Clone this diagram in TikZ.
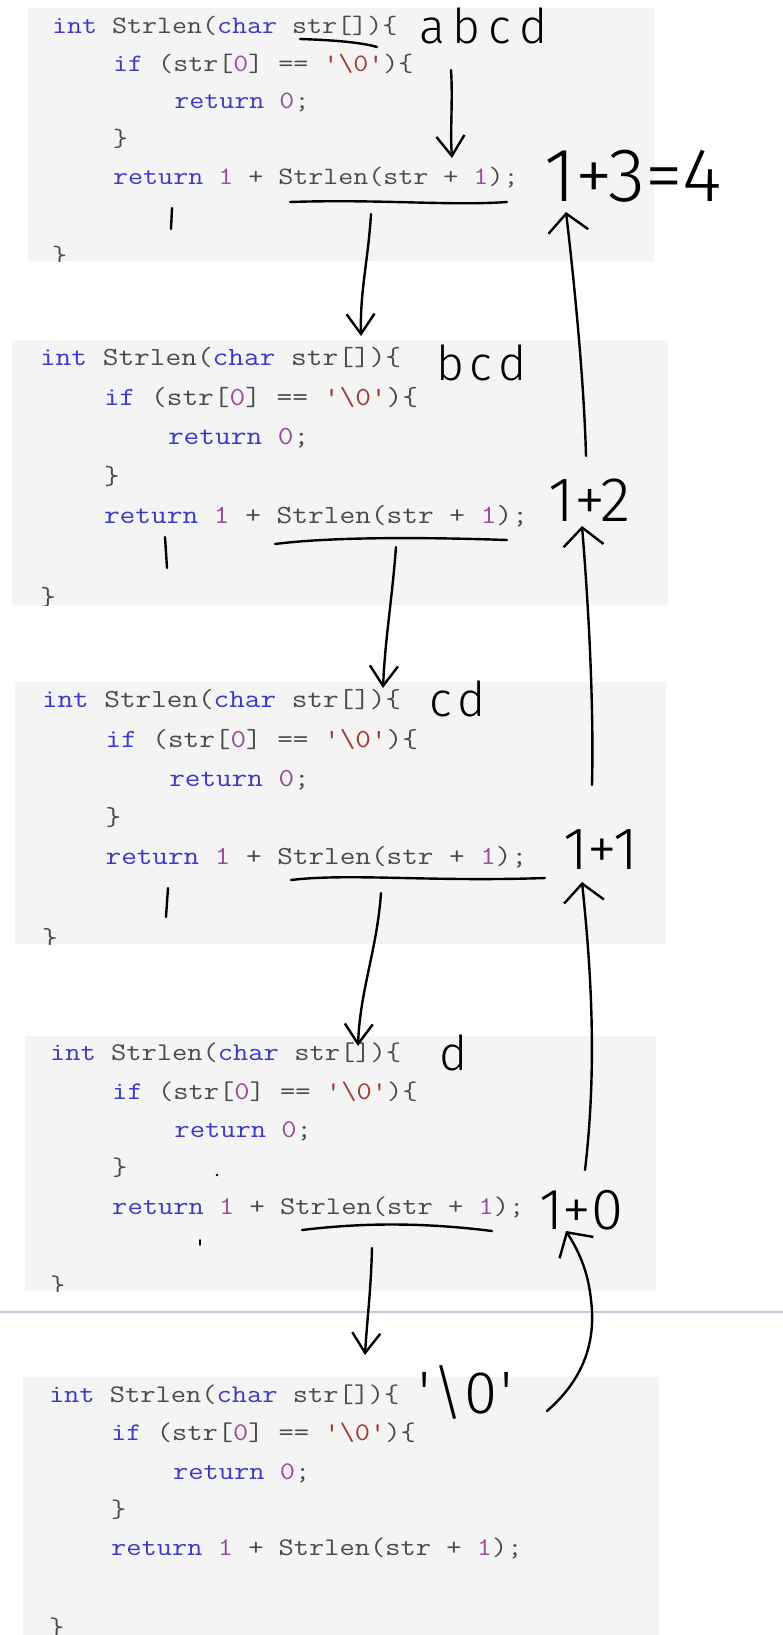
\documentclass[tikz,border=0pt]{standalone}
\usepackage{fontspec}
\usetikzlibrary{arrows.meta}
\newfontfamily\handfont{Fira Sans Light}
\definecolor{kw}{HTML}{3A3AC4}
\definecolor{pl}{HTML}{4A4A4A}
\definecolor{nm}{HTML}{9A4C9C}
\definecolor{st}{HTML}{A03C30}
\definecolor{codebg}{HTML}{F4F4F4}
\definecolor{sepcol}{HTML}{BFCAD8}
\newcommand\hfs[1]{\handfont\fontsize{#1}{#1}\selectfont}
\newcommand\Lone{{\color{kw}int} {\color{pl}Strlen(}{\color{kw}char} {\color{pl}str[])\{}}
\newcommand\Ltwo{{\color{kw}if} {\color{pl}(str[}{\color{nm}0}{\color{pl}] ==} {\color{st}\textquotesingle\textbackslash 0\textquotesingle}{\color{pl})\{}}
\newcommand\Lthree{{\color{kw}return} {\color{nm}0}{\color{pl};}}
\newcommand\Lfour{{\color{pl}\}}}
\newcommand\Lfive{{\color{kw}return} {\color{nm}1} {\color{pl}+ Strlen(str +} {\color{nm}1}{\color{pl});}}
\tikzset{
  hand/.style={line width=2.4pt, line cap=round, line join=round, black},
  downarrow/.style={hand, -{Straight Barb[length=20pt,width=28pt]}},
  uparrow/.style={hand, -{Straight Barb[length=18pt,width=40pt]}},
  codeline/.style={anchor=base west, inner sep=0pt, outer sep=0pt},
  handtext/.style={anchor=base west, inner sep=0pt, outer sep=0pt, black},
  sepline/.style={draw=sepcol, line width=2pt},
}
% #1 prefix, #2 left, #3 top, #4 right, #5 bottom, #6 text x, #7 first line y; scale in \bs
\newcommand\drawcode[7]{%
  \fill[codebg] (#2,#3) rectangle (#4,#5);
  \begin{scope}
    \clip (#2,#3) rectangle (#4,#5);
    \pgfmathsetmacro\fs{25*\bs}
    \pgfmathsetmacro\ls{37.75*\bs}
    \pgfmathsetmacro\cw{15.3*\bs}
    \pgfmathsetmacro\bo{7.5*\bs}
    \tikzset{codefont/.style={font=\ttfamily\fontsize{\fs}{\fs}\selectfont}}
    \node[codeline,codefont] (#1l1) at (#6, #7+\bo) {\scalebox{1.166}[1]{\Lone}};
    \node[codeline,codefont] (#1l2) at (#6+4*\cw, #7+\ls+\bo) {\scalebox{1.166}[1]{\Ltwo}};
    \node[codeline,codefont] (#1l3) at (#6+8*\cw, #7+2*\ls+\bo) {\scalebox{1.166}[1]{\Lthree}};
    \node[codeline,codefont] (#1l4) at (#6+4*\cw, #7+3*\ls+\bo) {\scalebox{1.166}[1]{\Lfour}};
    \node[codeline,codefont] (#1l5) at (#6+4*\cw, #7+4*\ls+\bo) {\scalebox{1.166}[1]{\Lfive}};
    \node[codeline,codefont] (#1l7) at (#6, #7+6*\ls+\bo+3) {\scalebox{1.166}[1]{\Lfour}};
  \end{scope}}
\begin{document}
\begin{tikzpicture}[x=1pt,y=-1pt]
\useasboundingbox (0,0) rectangle (783,1635);
\fill[white] (0,0) rectangle (783,1635);

% code boxes
\def\bs{1.0}   \drawcode{b1}{28}{8}{654}{261}{52}{26}
\def\bs{1.046} \drawcode{b2}{12}{340}{668}{605}{40}{358}
\def\bs{1.04}  \drawcode{b3}{15}{682}{666}{944}{42}{700}
\def\bs{1.017} \drawcode{b4}{25}{1036}{656}{1291}{50}{1053}
\def\bs{1.015} \drawcode{b5}{23}{1377}{659}{1635}{49}{1395}

% separator line
\draw[sepline] (0,1312) -- (783,1312);

% ---- box 1 annotations
\draw[hand] (300,39) .. controls (330,40) and (360,42) .. (377,47);
\node[handtext, font=\hfs{48}] (abcd) at (419,44) {a\kern8pt b\kern8pt c\kern8pt d};
\coordinate (a1s) at (451,70);
\coordinate (a1e) at (452,158);
\draw[downarrow] (a1s) .. controls (453,100) and (450,130) .. (a1e);
\draw[hand] (290,202) .. controls (380,199) and (450,206) .. (507,202);
\draw[hand] (172,208) -- (171,229);
\coordinate (d12s) at (371,214);
\coordinate (d12e) at (361,336);
\draw[downarrow] (d12s) .. controls (368,262) and (360,290) .. (d12e);
\node[handtext, font=\hfs{76}] (r4) at (544,201) {1+3=4};
\coordinate (u21s) at (586,456);
\coordinate (u21e) at (566,212);
\draw[uparrow] (u21s) .. controls (584,380) and (574,280) .. (u21e);

% ---- box 2 annotations
\node[handtext, font=\hfs{48}] (bcd) at (436,380) {b\kern6pt c\kern6pt d};
\draw[hand] (275,544) .. controls (330,537) and (420,537) .. (507,540);
\draw[hand] (165,537) -- (167,568);
\coordinate (d23s) at (396,547);
\coordinate (d23e) at (383,688);
\draw[downarrow] (d23s) .. controls (392,600) and (385,640) .. (d23e);
\node[handtext, font=\hfs{63}] (r3) at (548,521) {1+2};
\coordinate (u32s) at (592,785);
\coordinate (u32e) at (582,526);
\draw[uparrow] (u32s) .. controls (594,700) and (588,600) .. (u32e);

% ---- box 3 annotations
\node[handtext, font=\hfs{48}] (cd) at (429,716) {c\kern6pt d};
\draw[hand] (291,880) .. controls (350,873) and (430,882) .. (545,878);
\draw[hand] (168,888) -- (166,917);
\coordinate (d34s) at (381,893);
\coordinate (d34e) at (358,1046);
\draw[downarrow] (d34s) .. controls (377,950) and (360,990) .. (d34e);
\node[handtext, font=\hfs{60}] (r2) at (563,869) {1+1};
\coordinate (u43s) at (585,1170);
\coordinate (u43e) at (582,882);
\draw[uparrow] (u43s) .. controls (598,1060) and (590,960) .. (u43e);

% ---- box 4 annotations
\node[handtext, font=\hfs{48}] (d) at (439,1070) {d};
\draw[hand] (302,1230) .. controls (360,1223) and (420,1222) .. (492,1231);
\fill (217,1175) circle[radius=1.3pt];
\draw[hand, line width=1.8pt] (200,1240) -- (200,1245);
\coordinate (d45s) at (372,1248);
\coordinate (d45e) at (365,1355);
\draw[downarrow] (d45s) .. controls (371,1290) and (367,1320) .. (d45e);
\node[handtext, font=\hfs{58}] (r1) at (539,1229) {1+0};
\coordinate (u54s) at (547,1411);
\coordinate (u54m) at (591,1300);
\coordinate (u54e) at (566,1231);
\draw[uparrow] (u54s) .. controls (585,1378) and (596,1340) .. (u54m) .. controls (588,1270) and (578,1250) .. (u54e);

% ---- box 5 annotation
\node[handtext, font=\hfs{60}] (nul) at (418,1413) {\textquotesingle\kern2pt\textbackslash\kern1pt 0\kern3pt\textquotesingle};
\end{tikzpicture}
\end{document}
